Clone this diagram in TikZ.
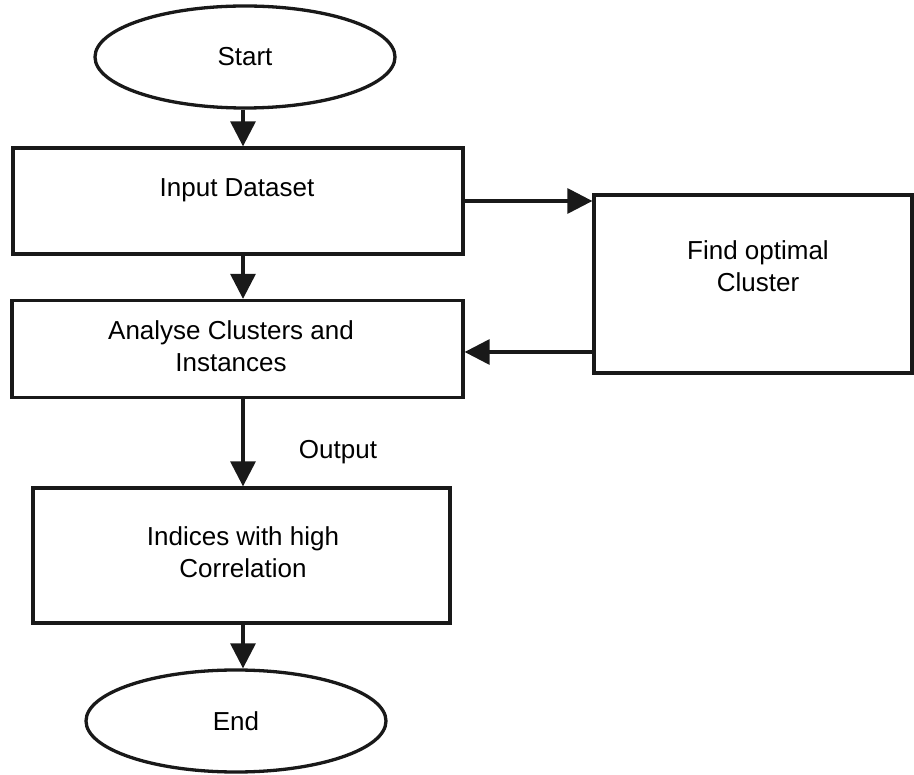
\documentclass[tikz,border=0pt]{standalone}
\usepackage{fontspec}
\setmainfont{Liberation Sans}
\usetikzlibrary{shapes.geometric,arrows.meta}
\begin{document}
\begin{tikzpicture}[x=1pt,y=-1pt,
  every node/.style={font=\fontsize{26}{32}\selectfont},
  box/.style={draw=black!90, line width=3.3pt, rectangle, inner sep=0pt},
  term/.style={draw=black!90, line width=3.3pt, ellipse, inner sep=0pt, minimum width=300pt, minimum height=102pt},
  txt/.style={align=center, inner sep=0pt},
  arr/.style={draw=black!90, line width=3.3pt, -{Triangle[length=25pt,width=25pt]}}]
\useasboundingbox (0,0) rectangle (914,775);
\node[term] (Start) at (245,57) {Start};
\node[box, minimum width=450pt, minimum height=106pt] (Input) at (238,201) {};
\node[txt] (InputT) at (237,190) {Input Dataset};
\node[box, minimum width=451pt, minimum height=97pt] (Analyse) at (237.5,349) {};
\node[txt] (AnalyseT) at (231,346) {Analyse Clusters and\\Instances};
\node[box, minimum width=318pt, minimum height=178pt] (Find) at (753,284) {};
\node[txt] (FindT) at (758,266) {Find optimal\\Cluster};
\node[box, minimum width=417pt, minimum height=135pt] (Indices) at (241.5,555.5) {};
\node[txt] (IndicesT) at (243,552) {Indices with high\\Correlation};
\node[term] (End) at (236,721) {End};
\node[txt] (OutL) at (338,452) {Output};
\coordinate (ax) at (243,0);
\coordinate (fb) at (594,352);
\draw[arr] (Start.south -| ax) -- (Input.north -| ax);
\draw[arr] (Input.south -| ax) -- (Analyse.north -| ax);
\draw[arr] (Input.east) -- (Find.west |- Input.east);
\draw[arr] (fb) -- (Analyse.east |- fb);
\draw[arr] (Analyse.south -| ax) -- (Indices.north -| ax);
\draw[arr] (Indices.south -| ax) -- (End.north -| ax);
\end{tikzpicture}
\end{document}
